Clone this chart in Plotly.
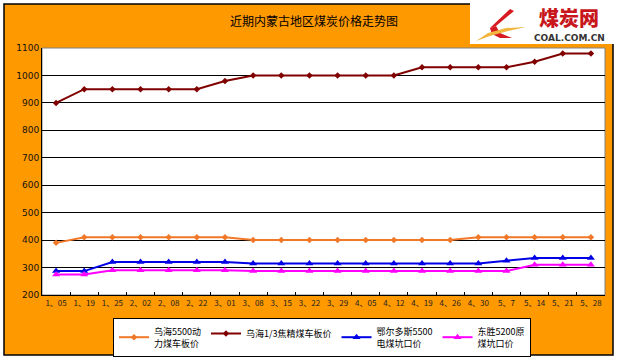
import plotly.graph_objects as go

categories = ["1、05", "1、19", "1、25", "2、02", "2、08", "2、22", "3、01", "3、08", "3、15", "3、22",
              "3、29", "4、05", "4、12", "4、19", "4、26", "4、30", "5、7", "5、14", "5、21", "5、28"]
wuhai_power = [390, 410, 410, 410, 410, 410, 410, 400, 400, 400, 400, 400, 400, 400, 400, 410, 410, 410, 410, 410]
wuhai_coking = [900, 950, 950, 950, 950, 950, 980, 1000, 1000, 1000, 1000, 1000, 1000, 1030, 1030, 1030, 1030, 1050, 1080, 1080]
ordos_power = [287, 287, 320, 320, 320, 320, 320, 315, 315, 315, 315, 315, 315, 315, 315, 315, 325, 335, 335, 335]
dongsheng_raw = [275, 275, 290, 290, 290, 290, 290, 287, 287, 287, 287, 287, 287, 287, 287, 287, 287, 310, 310, 310]
series_names = ["乌海5500动<br>力煤车板价", "乌海1/3焦精煤车板价", "鄂尔多斯5500<br>电煤坑口价", "东胜5200原<br>煤坑口价"]
title_text = "近期内蒙古地区煤炭价格走势图"
y_ticks = [200, 300, 400, 500, 600, 700, 800, 900, 1000, 1100]

W, H = 618, 358
L, R, T, B = 42, 13, 48, 63
PW, PH = W - L - R, H - T - B

def px(x):
    return (x - L) / PW

def py(y):
    return 1 - (y - T) / PH

CJK = "Noto Sans CJK SC"
fig = go.Figure()
styles = [
    ("#F07828", "diamond", 5),
    ("#800000", "diamond", 5),
    ("#0000E6", "triangle-up", 7),
    ("#FF00FF", "triangle-up", 7),
]
for name, vals, (col, sym, ms) in zip(series_names, [wuhai_power, wuhai_coking, ordos_power, dongsheng_raw], styles):
    fig.add_trace(go.Scatter(x=categories, y=vals, name=name, mode="lines+markers",
                             line=dict(color=col, width=2),
                             marker=dict(color=col, symbol=sym, size=ms)))

shapes = [
    dict(type="rect", xref="paper", yref="paper", x0=px(4), x1=px(613), y0=py(355), y1=py(4),
         fillcolor="#FF9900", line=dict(color="black", width=1.5), layer="below"),
    dict(type="rect", xref="paper", yref="paper", x0=px(470), x1=px(618), y0=py(44), y1=py(0),
         fillcolor="white", line=dict(width=0), layer="below"),
    dict(type="rect", xref="paper", yref="paper", x0=0, x1=1, y0=0, y1=1,
         fillcolor="white", line=dict(color="#808080", width=1), layer="below"),
]

def path(points):
    return "M " + " L ".join(f"{px(x):.4f},{py(y):.4f}" for x, y in points) + " Z"

# swoosh logo approximations
shapes.append(dict(type="path", xref="paper", yref="paper", layer="above",
                   path=path([(510, 9), (514, 11), (496, 26), (490, 28)]),
                   fillcolor="#D71920", line=dict(width=0)))
shapes.append(dict(type="path", xref="paper", yref="paper", layer="above",
                   path=path([(490, 28), (496, 26), (500, 33), (512, 38), (500, 38), (492, 34)]),
                   fillcolor="#D71920", line=dict(width=0)))
shapes.append(dict(type="path", xref="paper", yref="paper", layer="above",
                   path=path([(476, 41), (488, 33), (506, 28), (526, 27), (508, 31), (490, 36)]),
                   fillcolor="#F2B640", line=dict(width=0)))

annotations = [
    dict(text=title_text, xref="paper", yref="paper", x=px(314), y=py(21), showarrow=False,
         font=dict(family=CJK, size=12, color="black"), xanchor="center", yanchor="middle"),
    dict(text="煤炭网", xref="paper", yref="paper", x=px(569), y=py(17), showarrow=False,
         font=dict(family=CJK, size=20, color="#C8161D", weight=900), xanchor="center", yanchor="middle"),
    dict(text="<b>COAL.COM.CN</b>", xref="paper", yref="paper", x=px(569), y=py(38.5), showarrow=False,
         font=dict(family="DejaVu Sans", size=9, color="#333333"), xanchor="center", yanchor="middle"),
]

fig.update_layout(
    width=W, height=H,
    margin=dict(l=L, r=R, t=T, b=B, pad=0, autoexpand=False),
    paper_bgcolor="white", plot_bgcolor="rgba(0,0,0,0)",
    shapes=shapes, annotations=annotations,
    showlegend=True,
    legend=dict(orientation="h", x=px(322), y=py(318), xanchor="center", yanchor="top",
                bgcolor="white", bordercolor="black", borderwidth=1,
                font=dict(family=CJK, size=9, color="black"),
                itemwidth=30, tracegroupgap=0, itemclick=False),
    xaxis=dict(type="category", categoryorder="array", categoryarray=categories,
               range=[-0.5, len(categories) - 0.5], showgrid=False,
               showline=True, linecolor="black", linewidth=1,
               ticks="inside", ticklen=3, tickcolor="black", tickson="boundaries",
               tickangle=0, tickfont=dict(family=CJK, size=8, color="#222222")),
    yaxis=dict(range=[200, 1100], tickvals=y_ticks, showgrid=True, gridcolor="black", gridwidth=1,
               showline=True, linecolor="black", linewidth=1, ticks="",
               tickfont=dict(family="DejaVu Sans", size=9, color="#111111"), zeroline=False),
)
fig.write_html("out.html", config={"displayModeBar": False},
               post_script="document.body.style.margin='0';document.body.style.overflow='hidden';")
